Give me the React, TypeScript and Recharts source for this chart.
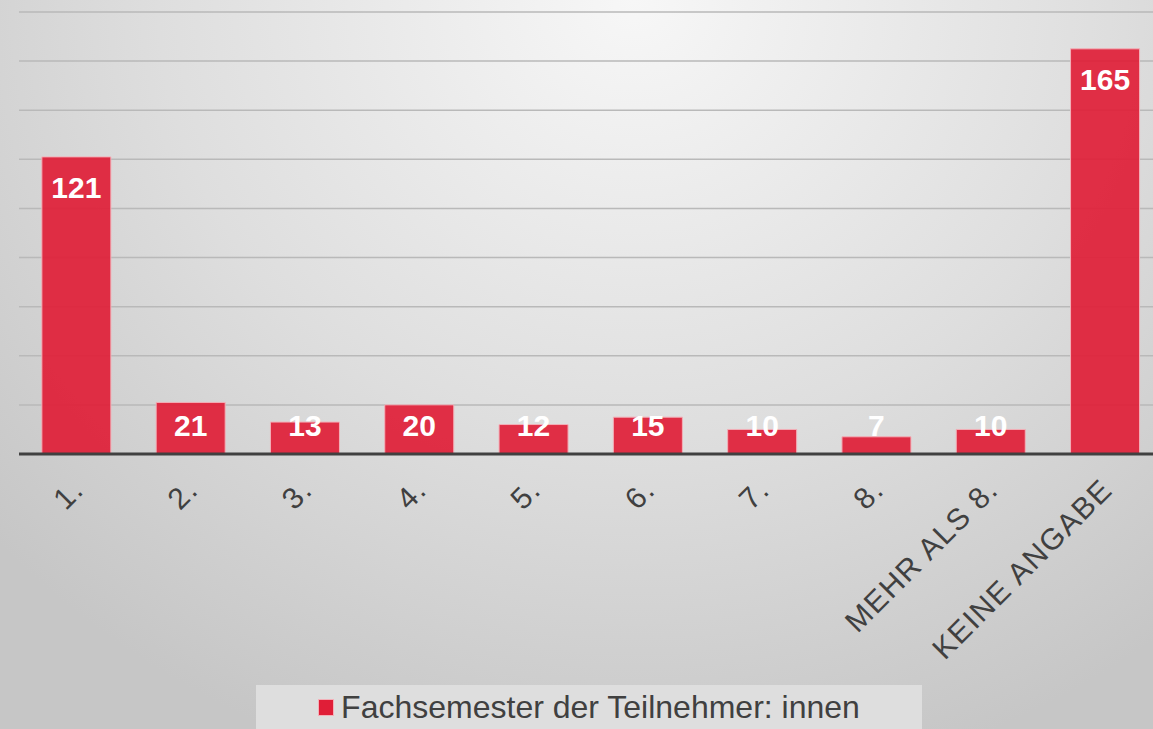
import { Bar, BarChart, CartesianGrid, LabelList, Legend, XAxis, YAxis } from "recharts";

const semesters = ["1.", "2.", "3.", "4.", "5.", "6.", "7.", "8.", "MEHR ALS 8.", "KEINE ANGABE"];
const counts = [121, 21, 13, 20, 12, 15, 10, 7, 10, 165];
const yTicks = [0, 20, 40, 60, 80, 100, 120, 140, 160, 180];
const seriesName = "Fachsemester der Teilnehmer: innen";

const data = semesters.map((s, i) => ({ semester: s, count: counts[i] }));

const RED = "#e01e37";
const TEXT = "#404040";
const FONT = "'Liberation Sans', Arial, sans-serif";

function SemesterTick(props: any) {
	const { x, y, payload } = props;
	const ax = x + 2;
	const ay = y + 22;
	return (
		<text
			x={ax}
			y={ay}
			transform={`rotate(-45 ${ax} ${ay})`}
			textAnchor="end"
			dominantBaseline="central"
			fill={TEXT}
			fontSize={30}
			letterSpacing={1.5}
			fontFamily={FONT}
		>
			{payload.value}
		</text>
	);
}

function ValueLabel(props: any) {
	const vb = props.viewBox ?? props;
	const { x, y, width, height } = vb;
	const cy = Math.min(y + 31, y + height - 29);
	return (
		<text
			x={x + width / 2}
			y={cy}
			textAnchor="middle"
			dominantBaseline="central"
			fill="#ffffff"
			fontSize={30}
			fontWeight="bold"
			fontFamily={FONT}
		>
			{props.value}
		</text>
	);
}

function LegendBox() {
	return (
		<div
			style={{
				height: 44,
				background: "#dedede",
				display: "flex",
				alignItems: "center",
				justifyContent: "center",
				fontFamily: FONT,
				fontSize: 32,
				color: TEXT,
			}}
		>
			<span
				style={{
					width: 14,
					height: 15,
					background: RED,
					border: "1px solid #f3b0b8",
					marginRight: 7,
					display: "inline-block",
				}}
			/>
			<span>{seriesName}</span>
		</div>
	);
}

export default function App() {
	return (
		<div
			style={{
				width: 1153,
				height: 729,
				overflow: "hidden",
				position: "relative",
				background: "radial-gradient(ellipse 75% 110% at 55% 0%, #f7f7f7 0%, #dedede 55%, #c6c6c6 100%)",
			}}
		>
			<style>{"body{margin:0}"}</style>
			<BarChart
				width={1162}
				height={729}
				data={data}
				margin={{ top: 12, right: 0, bottom: 0, left: 19 }}
				barCategoryGap="20%"
			>
				<CartesianGrid vertical={false} stroke="#b9b9b9" strokeWidth={1.5} />
				<YAxis hide domain={[0, 180]} ticks={yTicks} />
				<XAxis
					dataKey="semester"
					height={231}
					interval={0}
					tickLine={false}
					axisLine={{ stroke: "#404040", strokeWidth: 3 }}
					tick={<SemesterTick />}
				/>
				<Legend
					verticalAlign="bottom"
					content={<LegendBox />}
					wrapperStyle={{ left: 256, width: 666, bottom: 0 }}
				/>
				<Bar
					dataKey="count"
					name={seriesName}
					fill={RED}
					fillOpacity={0.92}
					stroke="#f3b0b8"
					strokeWidth={1}
					isAnimationActive={false}
				>
					<LabelList dataKey="count" content={<ValueLabel />} />
				</Bar>
			</BarChart>
		</div>
	);
}
